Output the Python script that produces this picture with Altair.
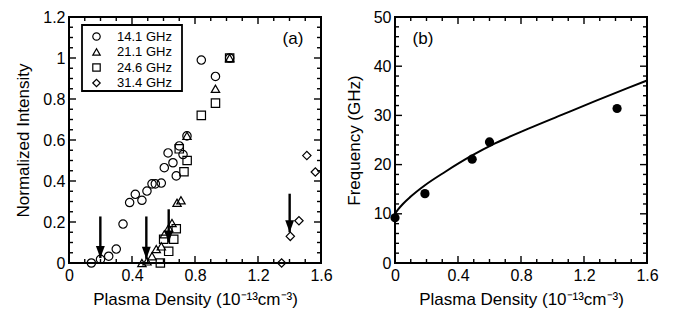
import altair as alt
import pandas as pd

FONT = "Liberation Sans"

# ---------------- panel (a) data ----------------
series_names = ["14.1 GHz", "21.1 GHz", "24.6 GHz", "31.4 GHz"]
series_shapes = ["circle", "triangle-up", "square", "diamond"]

c_x = [0.142, 0.20, 0.252, 0.30, 0.343, 0.385, 0.421, 0.463, 0.495, 0.527, 0.548, 0.586,
       0.605, 0.629, 0.66, 0.681, 0.70, 0.724, 0.749, 0.84, 0.93, 1.02]
c_y = [0.0, 0.018, 0.033, 0.068, 0.19, 0.295, 0.335, 0.306, 0.351, 0.386, 0.386, 0.39,
       0.465, 0.537, 0.489, 0.425, 0.571, 0.529, 0.62, 0.99, 0.91, 1.0]
t_x = [0.463, 0.495, 0.527, 0.554, 0.586, 0.605, 0.633, 0.654, 0.686, 0.711, 0.749, 0.93, 1.02]
t_y = [0.0, 0.008, 0.033, 0.068, 0.081, 0.14, 0.171, 0.195, 0.294, 0.306, 0.62, 0.85, 1.0]
s_x = [0.58, 0.601, 0.633, 0.665, 0.681, 0.70, 0.73, 0.75, 0.84, 0.93, 1.02]
s_y = [0.0, 0.116, 0.057, 0.116, 0.167, 0.557, 0.445, 0.50, 0.72, 0.78, 1.0]
d_x = [1.35, 1.405, 1.46, 1.51, 1.564]
d_y = [0.0, 0.13, 0.206, 0.524, 0.444]

# arrows (x, top of shaft, tip)
arrow_x = [0.199, 0.491, 0.633, 1.401]
arrow_top = [0.227, 0.227, 0.262, 0.338]
arrow_tip = [0.024, 0.02, 0.10, 0.15]

# ---------------- panel (b) data ----------------
dot_n = [0.0, 0.19, 0.49, 0.60, 1.41]
dot_f = [9.2, 14.1, 21.1, 24.6, 31.4]
curve_n = [0.0, 0.02, 0.05, 0.1, 0.19, 0.317, 0.487, 0.635, 0.847, 1.058, 1.27, 1.48, 1.6]
curve_f = [10.0, 10.9, 12.0, 13.5, 15.8, 18.5, 21.8, 24.3, 27.3, 30.1, 32.9, 35.6, 37.1]

# ---------------- axes / ticks ----------------
xa_labels = [0, 0.4, 0.8, 1.2, 1.6]
ya_labels = [0, 0.2, 0.4, 0.6, 0.8, 1.0, 1.2]
yb_labels = [0, 10, 20, 30, 40, 50]
x_minor = [round(0.1 * i, 2) for i in range(1, 16)]
ya_minor = [round(0.05 * i, 3) for i in range(1, 24)]
yb_minor = [2 * i for i in range(1, 25)]

W, H = 252, 246
MAJ, MIN = 7, 4

X_TITLE = "Plasma Density (10\u207b\u00b9\u00b3cm\u207b\u00b3)"

AX_X = alt.Axis(values=xa_labels, ticks=False, domain=False, grid=False, labelFlush=False,
                labelPadding=4, title=X_TITLE, titlePadding=8, format="~g")
AY_A = alt.Axis(values=ya_labels, ticks=False, domain=False, grid=False, labelPadding=4,
                format="~g", title="Normalized Intensity", titlePadding=10)
AY_B = alt.Axis(values=yb_labels, ticks=False, domain=False, grid=False, labelPadding=4,
                format="d", title="Frequency (GHz)", titlePadding=10)


def tick_layers(xs, ax, xmaj, ys, ay, ymaj):
    layers = []
    for vals, ln in ((xmaj, MAJ), ([v for v in x_minor if v not in xmaj], MIN)):
        df = pd.DataFrame({"v": vals})
        base = alt.Chart(df).mark_rule(color="black", strokeWidth=1.4)
        layers.append(base.encode(x=alt.X("v:Q", scale=xs, axis=ax),
                                  y=alt.value(H), y2=alt.value(H - ln)))
        layers.append(base.encode(x=alt.X("v:Q", scale=xs, axis=ax),
                                  y=alt.value(0), y2=alt.value(ln)))
    for vals, ln in ymaj:
        df = pd.DataFrame({"v": vals})
        base = alt.Chart(df).mark_rule(color="black", strokeWidth=1.4)
        layers.append(base.encode(y=alt.Y("v:Q", scale=ys, axis=ay),
                                  x=alt.value(0), x2=alt.value(ln)))
        layers.append(base.encode(y=alt.Y("v:Q", scale=ys, axis=ay),
                                  x=alt.value(W), x2=alt.value(W - ln)))
    return layers


# ---------------- build panel (a) ----------------
rows = []
for name, xs_, ys_ in zip(series_names, [c_x, t_x, s_x, d_x], [c_y, t_y, s_y, d_y]):
    for a, b in zip(xs_, ys_):
        rows.append({"x": a, "y": b, "series": name})
df_a = pd.DataFrame(rows)

xsa = alt.Scale(domain=[0, 1.6], nice=False, zero=False)
ysa = alt.Scale(domain=[0, 1.2], nice=False, zero=False)

points_a = alt.Chart(df_a).mark_point(filled=False, size=70, strokeWidth=1.2, color="black",
                                      opacity=1).encode(
    x=alt.X("x:Q", scale=xsa, axis=AX_X),
    y=alt.Y("y:Q", scale=ysa, axis=AY_A),
    shape=alt.Shape("series:N", scale=alt.Scale(domain=series_names, range=series_shapes),
                    legend=alt.Legend(title=None, orient="none", legendX=21, legendY=13,
                                      labelFontSize=13, labelFont=FONT, symbolSize=55,
                                      symbolStrokeWidth=1.2, symbolStrokeColor="black",
                                      symbolFillColor="transparent", labelOffset=14,
                                      rowPadding=1.5, padding=0, labelColor="black")),
)

legend_box = alt.Chart(pd.DataFrame({"k": [0]})).mark_rect(
    fill="white", stroke="black", strokeWidth=1.8).encode(
    x=alt.value(13), x2=alt.value(113), y=alt.value(8), y2=alt.value(74))

df_arrow = pd.DataFrame({"x": arrow_x, "top": arrow_top, "tip": arrow_tip})
shafts = alt.Chart(df_arrow).mark_rule(color="black", strokeWidth=2.4).encode(
    x=alt.X("x:Q", scale=xsa, axis=AX_X),
    y=alt.Y("top:Q", scale=ysa, axis=AY_A), y2="tip:Q")
heads = alt.Chart(df_arrow).mark_point(
    shape="M-0.85,-2.3L0.85,-2.3L0,0Z", filled=True, color="black", size=110, opacity=1).encode(
    x=alt.X("x:Q", scale=xsa, axis=AX_X),
    y=alt.Y("tip:Q", scale=ysa, axis=AY_A))

label_a = alt.Chart(pd.DataFrame({"t": ["(a)"]})).mark_text(
    fontSize=17, font=FONT, color="black", align="center", baseline="middle").encode(
    text="t:N", x=alt.value(224), y=alt.value(22))

panel_a = alt.layer(
    points_a, legend_box, shafts, heads, label_a,
    *tick_layers(xsa, AX_X, xa_labels, ysa, AY_A,
                 [(ya_labels, MAJ), ([v for v in ya_minor if round(v, 2) not in ya_labels], MIN)]),
).properties(width=W, height=H)

# ---------------- build panel (b) ----------------
xsb = alt.Scale(domain=[0, 1.6], nice=False, zero=False)
ysb = alt.Scale(domain=[0, 50], nice=False, zero=False)

df_curve = pd.DataFrame({"n": curve_n, "f": curve_f})
df_dots = pd.DataFrame({"n": dot_n, "f": dot_f})

curve = alt.Chart(df_curve).mark_line(color="black", strokeWidth=2, interpolate="monotone").encode(
    x=alt.X("n:Q", scale=xsb, axis=AX_X),
    y=alt.Y("f:Q", scale=ysb, axis=AY_B))
dots = alt.Chart(df_dots).mark_circle(color="black", size=85, opacity=1).encode(
    x=alt.X("n:Q", scale=xsb, axis=AX_X), y=alt.Y("f:Q", scale=ysb, axis=AY_B))

label_b = alt.Chart(pd.DataFrame({"t": ["(b)"]})).mark_text(
    fontSize=17, font=FONT, color="black", align="center", baseline="middle").encode(
    text="t:N", x=alt.value(28), y=alt.value(22))

panel_b = alt.layer(
    curve, dots, label_b,
    *tick_layers(xsb, AX_X, xa_labels, ysb, AY_B,
                 [(yb_labels, MAJ), ([v for v in yb_minor if v not in yb_labels], MIN)]),
).properties(width=W, height=H)

chart = alt.hconcat(panel_a, panel_b, spacing=10).properties(
    padding={"left": 5, "top": 0, "right": 0, "bottom": 0},
    background="white",
).configure_view(stroke="black", strokeWidth=2).configure_axis(
    labelFont=FONT, titleFont=FONT, labelFontSize=16, titleFontSize=17,
    titleFontWeight="normal", labelColor="black", titleColor="black"
)

chart.save("out.html", embed_options={"renderer": "svg", "actions": False})
